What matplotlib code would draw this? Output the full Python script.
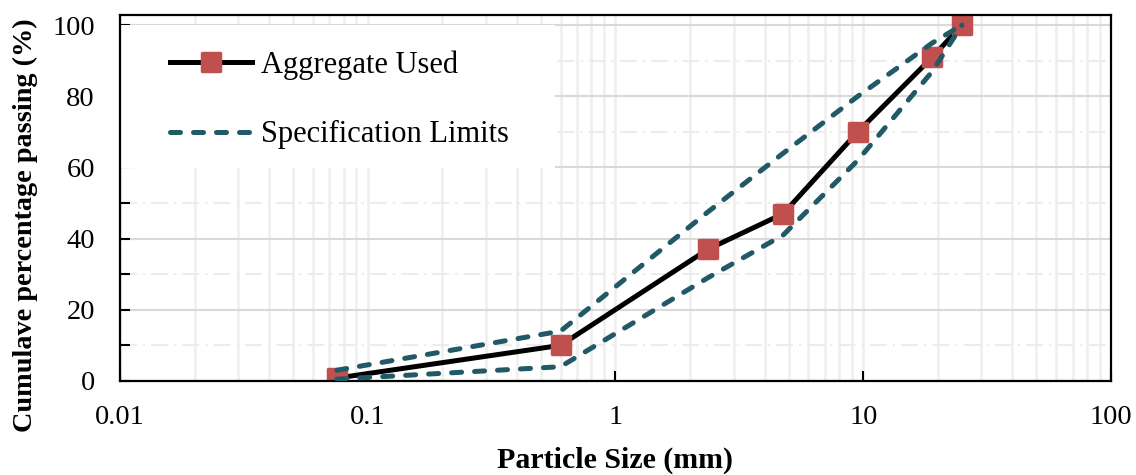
import matplotlib
matplotlib.use('Agg')
import matplotlib.pyplot as plt
from matplotlib.ticker import LogLocator, NullFormatter, FixedLocator
from matplotlib.markers import MarkerStyle
from matplotlib.patches import Rectangle

plt.rcParams['font.family'] = ['Liberation Serif', 'DejaVu Serif']

# sieve sizes (mm) and percentage passing
sizes = [0.075, 0.6, 2.36, 4.75, 9.5, 19, 25]
aggregate = [0.8, 10, 37, 47, 70, 91, 100]
upper_limit = [3, 14, 47.5, 64, 80, 95, 100]
lower_limit = [0.5, 4, 29, 41, 62, 87, 100]

x_ticks = [0.01, 0.1, 1, 10, 100]
x_tick_labels = ['0.01', '0.1', '1', '10', '100']
y_ticks = [0, 20, 40, 60, 80, 100]

red = '#C0504D'
teal = '#215967'

fig = plt.figure(figsize=(11.36, 4.75), dpi=100)
ax = fig.add_axes([0.1056, 0.198, 0.8724, 0.770])

ax.set_xscale('log')
ax.set_xlim(0.01, 100)
ax.set_ylim(0, 102.8)

# gridlines
ax.xaxis.set_minor_locator(LogLocator(base=10, subs=range(2, 10)))
ax.xaxis.set_minor_formatter(NullFormatter())
ax.yaxis.set_minor_locator(FixedLocator([10, 30, 50, 70, 90]))
ax.grid(True, which='major', axis='y', color='#d9d9d9', lw=1.5)
ax.grid(True, which='minor', axis='y', color='#ececec', lw=1.5, ls=(0, (8, 3, 1, 3)))
ax.grid(True, which='both', axis='x', color='#eeeeee', lw=1.8)
ax.set_axisbelow(True)

# white box behind the legend
ax.add_patch(Rectangle((0, 0.582), 0.439, 0.39, transform=ax.transAxes,
                       facecolor='white', edgecolor='none', zorder=1.2))

dash = (0, (2.0, 2.6))
ax.plot(sizes, lower_limit, color=teal, lw=3.6, ls=dash, dash_capstyle='round',
        label='Specification Limits', zorder=3)
ax.plot(sizes, upper_limit, color=teal, lw=3.6, ls=dash, dash_capstyle='round', zorder=3)
sq = MarkerStyle('s', joinstyle='round')
ax.plot(sizes, aggregate, color='black', lw=3.6, marker=sq, ms=13.5, mew=2.5,
        mfc=red, mec=red, label='Aggregate Used', zorder=2)

ax.set_xticks(x_ticks)
ax.set_xticklabels(x_tick_labels)
ax.set_yticks(y_ticks)
ax.tick_params(axis='x', which='major', direction='in', length=7, width=1.5,
               labelsize=20.5, pad=17)
ax.tick_params(axis='x', which='minor', length=0)
ax.tick_params(axis='y', which='both', direction='in', length=7, width=1.5,
               labelsize=20.5, pad=18)

for s in ax.spines.values():
    s.set_linewidth(1.6)
    s.set_color('black')

ax.set_xlabel('Particle Size (mm)', fontsize=21.5, fontweight='bold', labelpad=12)
ax.set_ylabel('Cumulave percentage passing (%)', fontsize=20.3, fontweight='bold')
ax.yaxis.set_label_coords(-0.0827, 0.426)

handles, labels = ax.get_legend_handles_labels()
leg = ax.legend(handles[::-1], labels[::-1], loc='upper left', fontsize=22,
                frameon=False, bbox_to_anchor=(0.0505, 0.904), borderaxespad=0,
                borderpad=0, handlelength=2.68, labelspacing=1.33, handletextpad=0.3)
leg.set_zorder(4)

plt.savefig('out.png', dpi=100)
